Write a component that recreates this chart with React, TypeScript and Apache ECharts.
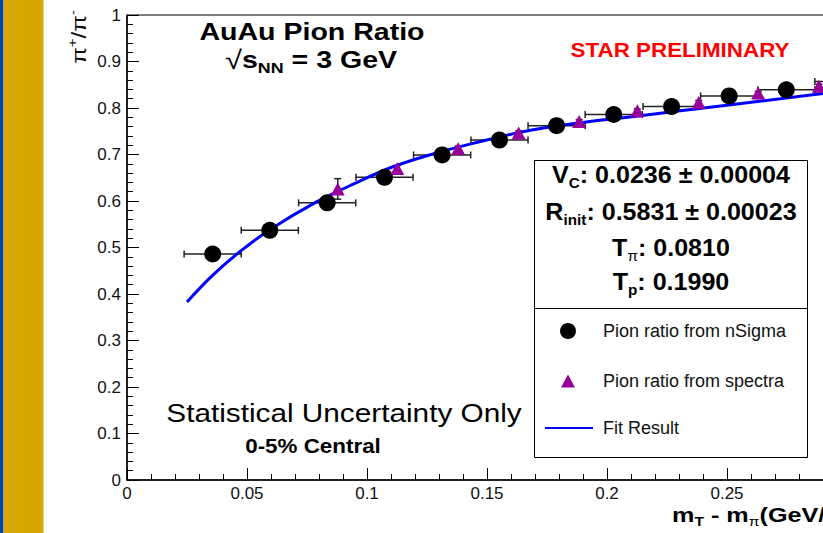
import React, { useEffect, useRef } from 'react';
import * as echarts from 'echarts';

// ---- data ----
const nSigmaX = [0.0357, 0.0595, 0.0834, 0.1073, 0.1313, 0.1552, 0.1790, 0.2028, 0.2269, 0.2509, 0.2747, 0.2985];
const nSigmaY = [0.486, 0.537, 0.596, 0.651, 0.699, 0.731, 0.762, 0.786, 0.803, 0.826, 0.839, 0.857];
const nSigmaXErr = [0.0119, 0.0119, 0.0119, 0.0119, 0.0119, 0.0119, 0.0119, 0.0119, 0.0119, 0.0119, 0.0119, 0.0119];

const spectraX = [0.0878, 0.1126, 0.1380, 0.1632, 0.1884, 0.2126, 0.2382, 0.2630, 0.2883];
const spectraY = [0.626, 0.670, 0.713, 0.746, 0.771, 0.794, 0.812, 0.832, 0.847];
const spectraYErr = [0.022, 0.006, 0.005, 0.005, 0.004, 0.004, 0.004, 0.004, 0.004];

const fitX = [0.025, 0.035, 0.047, 0.060, 0.079, 0.095, 0.110, 0.126, 0.145, 0.168, 0.190, 0.213, 0.2465, 0.290];
const fitY = [0.383, 0.437, 0.491, 0.540, 0.598, 0.638, 0.672, 0.699, 0.725, 0.752, 0.769, 0.783, 0.804, 0.831];

const seriesNames = ['Pion ratio from nSigma', 'Pion ratio from spectra', 'Fit Result'];
const fitParams = [
  ['V', 'C', ': 0.0236 \u00b1 0.00004'],
  ['R', 'init', ': 0.5831 \u00b1 0.00023'],
  ['T', '\u03c0', ': 0.0810'],
  ['T', 'p', ': 0.1990'],
];

const FONT = '"Liberation Sans", Arial, Helvetica, sans-serif';

const centered = { align: 'center', verticalAlign: 'middle', textAlign: 'center', textVerticalAlign: 'middle' };

export default function App() {
  const ref = useRef<HTMLDivElement>(null);
  useEffect(() => {
    if (!ref.current) return;
    const chart = echarts.init(ref.current, null, { renderer: 'svg' });

    const errRender = (params: any, api: any) => {
      const x = api.value(0), y = api.value(1), xe = api.value(2), ye = api.value(3);
      const children: any[] = [];
      const st = { stroke: '#222', lineWidth: 1.5 };
      if (xe > 0) {
        const a = api.coord([x - xe, y]);
        const b = api.coord([x + xe, y]);
        children.push({ type: 'line', shape: { x1: a[0], y1: a[1], x2: b[0], y2: b[1] }, style: st });
        children.push({ type: 'line', shape: { x1: a[0], y1: a[1] - 3.5, x2: a[0], y2: a[1] + 3.5 }, style: st });
        children.push({ type: 'line', shape: { x1: b[0], y1: b[1] - 3.5, x2: b[0], y2: b[1] + 3.5 }, style: st });
      }
      if (ye > 0) {
        const a = api.coord([x, y - ye]);
        const b = api.coord([x, y + ye]);
        children.push({ type: 'line', shape: { x1: a[0], y1: a[1], x2: b[0], y2: b[1] }, style: st });
        children.push({ type: 'line', shape: { x1: a[0] - 3.5, y1: a[1], x2: a[0] + 3.5, y2: a[1] }, style: st });
        children.push({ type: 'line', shape: { x1: b[0] - 3.5, y1: b[1], x2: b[0] + 3.5, y2: b[1] }, style: st });
      }
      return { type: 'group', children };
    };

    const paramTexts = fitParams.map((p, i) => ({
      type: 'text',
      x: 671,
      y: [175, 212, 248, 282][i],
      scaleX: 1.09,
      style: {
        text: `{b|${p[0]}}{s|${p[1]}}{b|${p[2]}}`,
        ...centered,
        rich: {
          b: { fontSize: 23, fontWeight: 'bold', fontFamily: FONT, fill: '#000', lineHeight: 30, verticalAlign: 'middle' },
          s: { fontSize: 14, fontWeight: p[1] === '\u03c0' ? 'normal' : 'bold', fontFamily: FONT, fill: '#000', lineHeight: 15, verticalAlign: 'bottom' },
        },
      },
    }));

    const legendText = { fontSize: 18, fontFamily: FONT, color: '#111', lineHeight: 16 };

    const option: any = {
      animation: false,
      backgroundColor: '#fff',
      grid: {
        left: 127, top: 15, width: 720, height: 465,
        show: true, borderColor: '#000', borderWidth: 1,
        containLabel: false, outerBoundsMode: 'none',
      },
      xAxis: {
        type: 'value', min: 0, max: 0.3, interval: 0.05,
        axisLine: { show: true, onZero: false, lineStyle: { color: '#000', width: 1.5 } },
        axisTick: { show: true, inside: true, length: 12, lineStyle: { color: '#000', width: 1 } },
        minorTick: { show: true, splitNumber: 5, length: 6, lineStyle: { color: '#000', width: 1 } },
        splitLine: { show: false },
        axisLabel: {
          fontSize: 17, fontFamily: FONT, color: '#111', margin: 5,
          formatter: (v: number) => String(parseFloat(v.toFixed(2))),
        },
      },
      yAxis: {
        type: 'value', min: 0, max: 1, interval: 0.1,
        axisLine: { show: true, onZero: false, lineStyle: { color: '#000', width: 1.5 } },
        axisTick: { show: true, inside: true, length: 12, lineStyle: { color: '#000', width: 1 } },
        minorTick: { show: true, splitNumber: 5, length: 6, lineStyle: { color: '#000', width: 1 } },
        splitLine: { show: false },
        axisLabel: {
          fontSize: 17, fontFamily: FONT, color: '#111', margin: 6,
          formatter: (v: number) => String(parseFloat(v.toFixed(1))),
        },
      },
      legend: [
        {
          orient: 'vertical', left: 560, top: 322, padding: 0, itemWidth: 16, itemHeight: 16,
          data: [{ name: seriesNames[0], icon: 'circle' }],
          textStyle: { ...legendText, padding: [0, 0, 0, 22] },
          selectedMode: false,
        },
        {
          orient: 'vertical', left: 561, top: 372, padding: 0, itemWidth: 14, itemHeight: 13,
          data: [{ name: seriesNames[1], icon: 'triangle' }],
          textStyle: { ...legendText, padding: [0, 0, 0, 23] },
          selectedMode: false,
        },
        {
          orient: 'vertical', left: 545, top: 419, padding: 0, itemWidth: 48, itemHeight: 2,
          data: [{ name: seriesNames[2], icon: 'rect' }],
          textStyle: { ...legendText, padding: [0, 0, 0, 5] },
          selectedMode: false,
        },
      ],
      series: [
        {
          type: 'custom', name: 'nSigmaErr', z: 2,
          renderItem: errRender,
          data: nSigmaX.map((x, i) => [x, nSigmaY[i], nSigmaXErr[i], 0]),
        },
        {
          type: 'custom', name: 'spectraErr', z: 2,
          renderItem: errRender,
          data: spectraX.map((x, i) => [x, spectraY[i], 0, spectraYErr[i]]),
        },
        {
          type: 'line', name: seriesNames[2], z: 3,
          data: fitX.map((x, i) => [x, fitY[i]]),
          smooth: 0.35, symbol: 'none', showSymbol: false,
          lineStyle: { color: '#0000ff', width: 3 }, itemStyle: { color: '#0000ff' },
        },
        {
          type: 'scatter', name: seriesNames[0], z: 4,
          data: nSigmaX.map((x, i) => [x, nSigmaY[i]]),
          symbol: 'circle', symbolSize: 17,
          itemStyle: { color: '#000', opacity: 1 },
        },
        {
          type: 'scatter', name: seriesNames[1], z: 5,
          data: spectraX.map((x, i) => [x, spectraY[i]]),
          symbol: 'triangle', symbolSize: [14, 13],
          itemStyle: { color: '#990099', opacity: 1 },
        },
      ],
      graphic: [
        { type: 'rect', shape: { x: 0, y: 0, width: 3.5, height: 533 }, style: { fill: '#0047AB' } },
        { type: 'rect', shape: { x: 3.5, y: 0, width: 40, height: 533 }, style: { fill: '#D9A800' } },
        { type: 'rect', shape: { x: 534.5, y: 160.5, width: 273, height: 297 }, style: { fill: '#fff', stroke: '#000', lineWidth: 1 } },
        { type: 'line', shape: { x1: 534.5, y1: 308.5, x2: 807.5, y2: 308.5 }, style: { stroke: '#000', lineWidth: 1 } },
        ...paramTexts,
        {
          type: 'text', x: 312, y: 32, scaleX: 1.19,
          style: { text: 'AuAu Pion Ratio', font: `bold 24px ${FONT}`, fill: '#000', ...centered },
        },
        {
          type: 'text', x: 311, y: 60, scaleX: 1.19,
          style: {
            text: '{r|\u221a}{b|s}{s|NN}{b| = 3 GeV}',
            ...centered,
            rich: {
              r: { fontSize: 26, fontFamily: FONT, fill: '#000', lineHeight: 30, verticalAlign: 'middle' },
              b: { fontSize: 24, fontWeight: 'bold', fontFamily: FONT, fill: '#000', lineHeight: 30, verticalAlign: 'middle' },
              s: { fontSize: 15, fontWeight: 'bold', fontFamily: FONT, fill: '#000', lineHeight: 15, verticalAlign: 'bottom' },
            },
          },
        },
        {
          type: 'text', x: 680, y: 50, scaleX: 1.12,
          style: { text: 'STAR PRELIMINARY', font: `bold 20px ${FONT}`, fill: '#ff0000', ...centered },
        },
        {
          type: 'text', x: 344, y: 413, scaleX: 1.19,
          style: { text: 'Statistical Uncertainty Only', font: `25px ${FONT}`, fill: '#000', ...centered },
        },
        {
          type: 'text', x: 313, y: 446, scaleX: 1.12,
          style: { text: '0-5% Central', font: `bold 20px ${FONT}`, fill: '#000', ...centered },
        },
        {
          type: 'text', x: 78, y: 37, rotation: Math.PI / 2, scaleX: 1.15,
          style: {
            text: '{n|\u03c0}{p|+}{n|/\u03c0}{p|-}',
            ...centered,
            rich: {
              n: { fontSize: 21, fontFamily: FONT, fill: '#111', lineHeight: 24, verticalAlign: 'bottom' },
              p: { fontSize: 13, fontFamily: FONT, fill: '#111', lineHeight: 14, verticalAlign: 'top' },
            },
          },
        },
        {
          type: 'text', x: 672, y: 515, scaleX: 1.2,
          style: {
            text: '{b|m}{s|T}{b| - m}{p|\u03c0}{b|(GeV/c}{u|2}{b|)}',
            align: 'left', verticalAlign: 'middle', textAlign: 'left', textVerticalAlign: 'middle',
            rich: {
              b: { fontSize: 21, fontWeight: 'bold', fontFamily: FONT, fill: '#000', lineHeight: 26, verticalAlign: 'middle' },
              s: { fontSize: 13, fontWeight: 'bold', fontFamily: FONT, fill: '#000', lineHeight: 13, verticalAlign: 'bottom' },
              p: { fontSize: 13, fontFamily: FONT, fill: '#000', lineHeight: 13, verticalAlign: 'bottom' },
              u: { fontSize: 13, fontWeight: 'bold', fontFamily: FONT, fill: '#000', lineHeight: 13, verticalAlign: 'top' },
            },
          },
        },
      ],
    };
    chart.setOption(option);
    return () => chart.dispose();
  }, []);
  return <div ref={ref} style={{ position: 'fixed', left: 0, top: 0, width: 823, height: 533 }} />;
}
